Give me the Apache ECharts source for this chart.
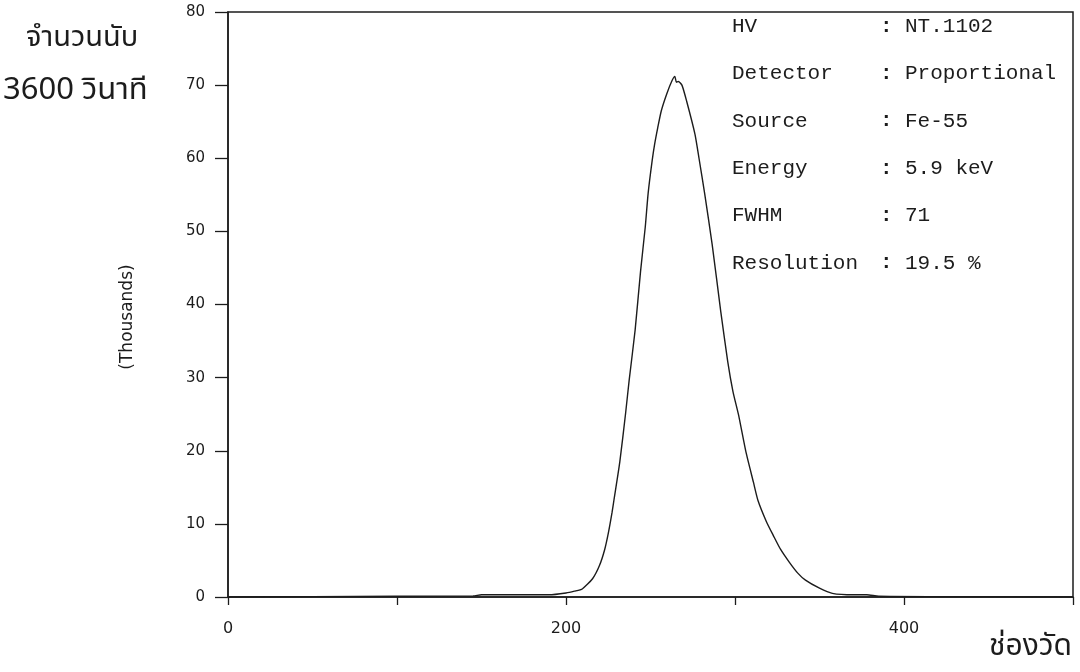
<!DOCTYPE html>
<html>
<head>
<meta charset="utf-8">
<script src="https://cdn.jsdelivr.net/npm/echarts@6/dist/echarts.min.js"></script>
<style>
html,body{margin:0;padding:0;background:#ffffff;}
#chart{width:1080px;height:672px;}
</style>
</head>
<body>
<div id="chart"></div>
<script>
// Channel numbers (x) and counts in thousands (y)
const channels = [0, 50, 100, 145, 150, 170, 190, 200, 205, 209.6, 215.7, 219.8, 222.9, 225.1, 227.2, 228.4, 231.8, 235.3, 237.4, 240.9, 244.1, 246.9, 248.6, 251.0, 252.5, 254.3, 256.4, 259.6, 262.7, 264.4, 265.3, 266.5, 268.6, 271.4, 276.3, 278.7, 282.1, 286.5, 291.6, 295.7, 298.8, 302.1, 306.5, 310.9, 313.6, 318.6, 322.7, 327, 332.3, 337, 341.7, 350, 357.6, 370, 378, 385, 420, 500];
const countsK  = [0, 0.05, 0.1, 0.15, 0.3, 0.3, 0.3, 0.55, 0.8, 1.1, 2.5, 4.3, 6.5, 8.8, 11.5, 13.3, 18.4, 25.2, 29.7, 36.5, 44.5, 50.6, 55.2, 59.7, 62.0, 64.2, 66.5, 68.8, 70.6, 71.2, 70.4, 70.5, 70.0, 67.8, 63.3, 60.0, 55.1, 48.2, 39.0, 32.2, 28.1, 24.9, 19.8, 15.7, 13.2, 10.3, 8.4, 6.5, 4.7, 3.3, 2.3, 1.2, 0.5, 0.3, 0.3, 0.1, 0.05, 0];

const xTickLabels = [0, 200, 400];
const yTickLabels = [0, 10, 20, 30, 40, 50, 60, 70, 80];

const infoLabels = ['HV', 'Detector', 'Source', 'Energy', 'FWHM', 'Resolution'];
const infoValues = ['NT.1102', 'Proportional', 'Fe-55', '5.9 keV', '71', '19.5 %'];

const yTitleLines = ['จำนวนนับ', '3600 วินาที'];
const xTitle = 'ช่องวัด';
const yUnit = '(Thousands)';

const chart = echarts.init(document.getElementById('chart'), null, {renderer: 'canvas'});

const ink = '#1c1c1c';
const thaiFont = "'Noto Sans Thai', 'Noto Sans Thai Looped', 'Noto Sans', sans-serif";
const plotFont = "'DejaVu Sans', sans-serif";
const monoFont = "'Liberation Mono', 'DejaVu Sans Mono', monospace";

const graphics = [];
infoLabels.forEach(function (lab, i) {
  const y = 28 + i * 47.3;
  graphics.push({type: 'text', left: 732, top: y - 12, style: {text: lab, font: '21px ' + monoFont, fill: ink}});
  graphics.push({type: 'text', left: 880, top: y - 12, style: {text: ':', font: 'bold 21px ' + monoFont, fill: ink}});
  graphics.push({type: 'text', left: 905, top: y - 12, style: {text: infoValues[i], font: '21px ' + monoFont, fill: ink}});
});
graphics.push({type: 'text', left: 26, top: 26, style: {text: yTitleLines[0], font: '29px ' + thaiFont, fill: ink}});
graphics.push({type: 'text', left: 3, top: 77, style: {text: yTitleLines[1], font: '31px ' + thaiFont, fill: ink}});
graphics.push({type: 'text', left: 989, top: 634, style: {text: xTitle, font: '30px ' + thaiFont, fill: ink}});
graphics.push({type: 'text', x: 128, y: 317, rotation: Math.PI / 2,
  style: {text: yUnit, font: '17px ' + plotFont, fill: ink, align: 'center', verticalAlign: 'middle'}});

chart.setOption({
  backgroundColor: '#ffffff',
  animation: false,
  grid: {left: 228, right: 7, top: 12, bottom: 75, show: true, borderColor: ink, borderWidth: 1.5, backgroundColor: 'transparent'},
  xAxis: {
    type: 'value', min: 0, max: 500, interval: 100,
    axisLine: {show: true, onZero: false, lineStyle: {color: ink, width: 1.5}},
    axisTick: {show: true, inside: false, length: 8, lineStyle: {color: ink, width: 1.3}},
    axisLabel: {
      margin: 24, color: ink, fontFamily: plotFont, fontSize: 16,
      formatter: function (v) { return xTickLabels.indexOf(v) >= 0 ? String(v) : ''; }
    },
    splitLine: {show: false}
  },
  yAxis: {
    type: 'value', min: 0, max: 80, interval: 10,
    axisLine: {show: true, lineStyle: {color: ink, width: 1.5}},
    axisTick: {show: true, inside: false, length: 13, lineStyle: {color: ink, width: 1.3}},
    axisLabel: {
      margin: 23, color: ink, fontFamily: plotFont, fontSize: 15,
      formatter: function (v) { return yTickLabels.indexOf(v) >= 0 ? String(v) : ''; }
    },
    splitLine: {show: false}
  },
  series: [{
    type: 'line',
    data: channels.map(function (c, i) { return [c, countsK[i]]; }),
    showSymbol: false,
    smooth: 0.2,
    lineStyle: {color: ink, width: 1.4},
    silent: true
  }],
  graphic: graphics
});
</script>
</body>
</html>
